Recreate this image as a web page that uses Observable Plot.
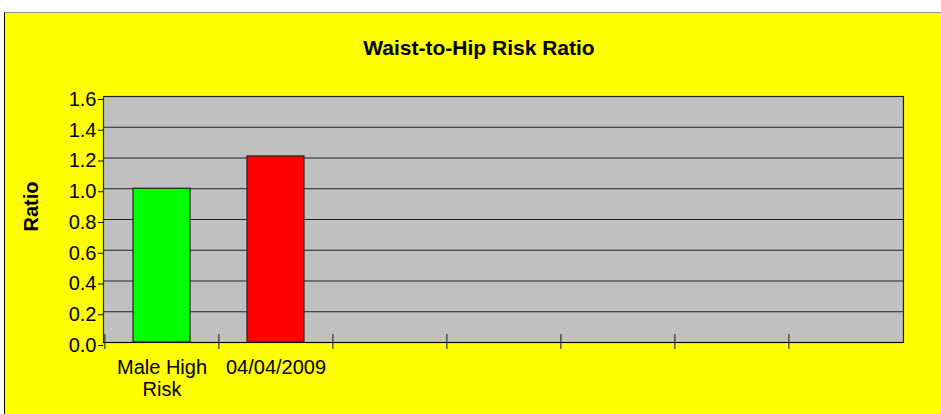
<!DOCTYPE html>
<html><head><meta charset="utf-8">
<script src="https://cdn.jsdelivr.net/npm/d3@7"></script>
<script src="https://cdn.jsdelivr.net/npm/@observablehq/plot@0.6"></script>
<style>
html,body{margin:0;padding:0;background:#fff;overflow:hidden;width:941px;height:414px;}
#bg{position:absolute;left:4px;top:12px;width:1000px;height:500px;background:#ffff00;border:1px solid #000;border-top-color:#999;box-sizing:border-box;}
#title{position:absolute;left:0;top:37px;width:958px;text-align:center;font:bold 21px "Liberation Sans",Arial,sans-serif;line-height:21px;color:#000;}
#chart{position:absolute;left:0;top:0;}
</style></head><body>
<div id="bg"></div>
<div id="title">Waist-to-Hip Risk Ratio</div>
<div id="chart"></div>
<script>
const categories = ["Male High\nRisk", "04/04/2009", "", "", "", "", ""];
const values = [1.0, 1.21];
const barColors = ["#00ff00", "#ff0000"];
const yTicks = [0, 0.2, 0.4, 0.6, 0.8, 1.0, 1.2, 1.4, 1.6];
const yLabel = "Ratio";

const bars = values.map((v, i) => ({i, v, c: barColors[i]}));
const idx = d3.range(categories.length);
const W = 941, H = 414, mL = 103, mR = 38, mT = 96, mB = 72;
const step = (W - mL - mR) / categories.length;

const chart = Plot.plot({
  width: W, height: H,
  marginLeft: mL, marginRight: mR, marginTop: mT, marginBottom: mB,
  style: {background: "transparent", fontFamily: "'Liberation Sans', Arial, sans-serif", fontSize: "20px", color: "#000", overflow: "visible"},
  x: {type: "band", domain: idx, paddingInner: 0.5, paddingOuter: 0.25},
  y: {domain: [0, 1.6]},
  color: {type: "identity"},
  marks: [
    Plot.frame({fill: "#c0c0c0"}),
    Plot.ruleY(yTicks.slice(1), {stroke: "#222", strokeWidth: 1.2}),
    Plot.barY(bars, {x: "i", y: "v", fill: "c", stroke: "#222", strokeWidth: 1.2}),
    Plot.frame({stroke: "#222", strokeWidth: 1.2}),
    Plot.ruleY([0], {stroke: "#000", strokeWidth: 1.2}),
    Plot.ruleX(idx, {x: d => d, dx: -step / 2, insetTop: (H - mT - mB) - 8, insetBottom: -7, stroke: "#333", strokeWidth: 1.2}),
    Plot.axisY({ticks: yTicks, tickFormat: d3.format(".1f"), tickSize: 5, tickPadding: 2, label: null, fontSize: 20, dy: 3}),
    Plot.axisX({ticks: idx, tickSize: 0, tickPadding: 15.5, tickFormat: i => categories[i], label: null, fontSize: 20, lineHeight: 1.1}),
    Plot.text([yLabel], {frameAnchor: "left", dx: -72, dy: 12, rotate: -90, fontWeight: "bold", fontSize: 20, text: d => d})
  ]
});
document.getElementById("chart").appendChild(chart);
</script>
</body></html>
